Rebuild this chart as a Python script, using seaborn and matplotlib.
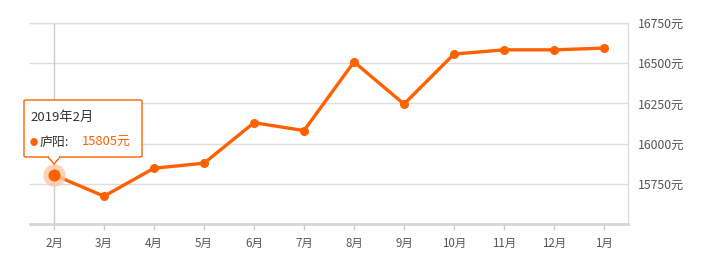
import matplotlib
matplotlib.use("Agg")
import matplotlib.pyplot as plt
import seaborn as sns
import pandas as pd
from matplotlib.patches import FancyBboxPatch, Polygon

months = ["2月", "3月", "4月", "5月", "6月", "7月", "8月", "9月", "10月", "11月", "12月", "1月"]
prices = [15805, 15673, 15847, 15878, 16130, 16081, 16508, 16246, 16557, 16583, 16583, 16594]
yticks = [15750, 16000, 16250, 16500, 16750]
tooltip_title = "2019年2月"
series_name = "庐阳"

sns.set_theme(style="white")
plt.rcParams['font.family'] = ['Noto Sans CJK SC', 'DejaVu Sans']

W, H = 704, 269
fig = plt.figure(figsize=(W / 100, H / 100), dpi=100)
ax = fig.add_axes([30 / W, (H - 224) / H, (628 - 30) / W, (224 - 23) / H])

df = pd.DataFrame({"x": range(len(months)), "price": prices})
orange = "#ff6000"

for yt in yticks:
    ax.axhline(yt, color="#dddddd", lw=1, zorder=0)
# axis pointer
ax.axvline(0, color="#cccccc", lw=1, zorder=0)

sns.lineplot(data=df, x="x", y="price", ax=ax, color=orange, lw=2.4,
             marker="o", markersize=6.5, markeredgewidth=0, zorder=3)
# highlighted point
ax.scatter([0], [prices[0]], s=260, color="#ffc8a8", alpha=0.8, zorder=4, linewidths=0)
ax.scatter([0], [prices[0]], s=75, color=orange, zorder=5, linewidths=0)

ax.set_xlim(-0.48, len(months) - 1 + 0.48)
ax.set_ylim(15500, 16750)
ax.set_xticks(range(len(months)))
ax.set_xticklabels(months, fontsize=8.3, color="#555555")
ax.set_yticks(yticks)
ax.set_yticklabels([f"{v}元" for v in yticks], fontsize=8.8, color="#555555")
ax.yaxis.tick_right()
ax.tick_params(axis="y", length=0, pad=7)
ax.tick_params(axis="x", length=4, width=1, color="#cccccc", pad=5, bottom=True)
ax.set_xlabel("")
ax.set_ylabel("")

for s in ["top", "right"]:
    ax.spines[s].set_color("#dddddd")
    ax.spines[s].set_linewidth(1)
ax.spines["left"].set_visible(False)
ax.spines["bottom"].set_color("#d6d6d6")
ax.spines["bottom"].set_linewidth(2)

# tooltip (figure pixel coordinates)
def fx(px):
    return px / W

def fy(py):
    return (H - py) / H

box = FancyBboxPatch((fx(24), fy(157)), fx(142) - fx(24), fy(100) - fy(157),
                     boxstyle="round,pad=0,rounding_size=0.004",
                     transform=fig.transFigure, facecolor="white",
                     edgecolor=orange, lw=1, zorder=10)
fig.patches.append(box)
tri = Polygon([[fx(48), fy(157)], [fx(54), fy(164)], [fx(60), fy(157)]],
              closed=True, transform=fig.transFigure, facecolor="white",
              edgecolor=orange, lw=1, zorder=11)
fig.patches.append(tri)
fig.patches.append(Polygon([[fx(48.8), fy(156.6)], [fx(59.2), fy(156.6)], [fx(54), fy(156.6)]],
                           closed=True, transform=fig.transFigure, facecolor="white",
                           edgecolor="white", lw=1.2, zorder=12))
fig.text(fx(30), fy(117), tooltip_title, fontsize=9.5, color="#333333", va="center", zorder=13)
fig.text(fx(30), fy(142), "●", fontsize=6, color=orange, va="center", zorder=13)
fig.text(fx(40), fy(142), f"{series_name}:", fontsize=9.3, color="#333333", va="center", zorder=13)
fig.text(fx(82), fy(142), f"{prices[0]}元", fontsize=9.3, color=orange, va="center", zorder=13)

fig.savefig("out.png", dpi=100)
